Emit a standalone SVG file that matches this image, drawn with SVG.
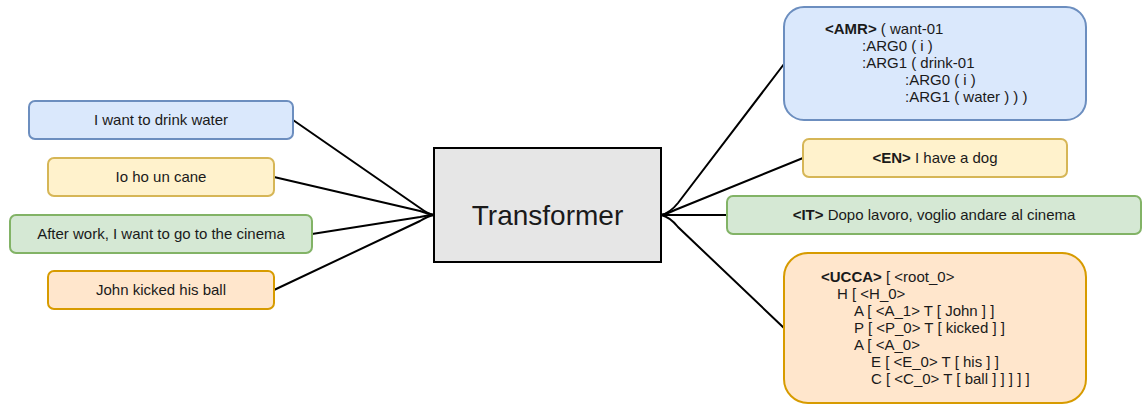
<svg xmlns="http://www.w3.org/2000/svg" width="1142" height="405" viewBox="0 0 1142 405">
<style>
text{font-family:"Liberation Sans",Arial,sans-serif;font-size:15px;fill:#1a1a1a}
.c{text-anchor:middle}
.b{font-weight:bold}
.blue{fill:#dae8fc;stroke:#6c8ebf;stroke-width:2}
.yel{fill:#fff2cc;stroke:#d6b656;stroke-width:2}
.grn{fill:#d5e8d4;stroke:#82b366;stroke-width:2}
.org{fill:#ffe6cc;stroke:#d79b00;stroke-width:2}
.edge{fill:none;stroke:#000;stroke-width:2}
</style>
<rect width="1142" height="405" fill="#fff"/>
<g id="connectors">
<path class="edge" d="M293,120 L420,208 Q428,214 434,215"/>
<path class="edge" d="M274,177 L420,211 Q428,214 434,215"/>
<path class="edge" d="M312,234 L420,217 Q428,215 434,215"/>
<path class="edge" d="M274,290 L420,221 Q428,216 434,215"/>
<path class="edge" d="M784,64 L678,203 Q670,213 661,215"/>
<path class="edge" d="M803,158 L675,210 Q667,214 661,215"/>
<path class="edge" d="M727,215 L661,215"/>
<path class="edge" d="M784,328 L678,227 Q670,217 661,215"/>
</g>
<g id="n_en_src"><rect class="blue" x="29" y="101" width="264" height="38" rx="6"/><text class="c" x="161" y="125">I want to drink water</text></g>
<g id="n_it_src"><rect class="yel" x="48" y="158" width="226" height="38" rx="6"/><text class="c" x="161" y="182">Io ho un cane</text></g>
<g id="n_en2_src"><rect class="grn" x="10" y="215" width="302" height="38" rx="6"/><text class="c" x="161" y="239">After work, I want to go to the cinema</text></g>
<g id="n_john"><rect class="org" x="48" y="271" width="226" height="38" rx="6"/><text class="c" x="161" y="295">John kicked his ball</text></g>
<g id="n_transformer"><rect x="434" y="148" width="227" height="114" fill="#e6e6e6" stroke="#000" stroke-width="2"/><text class="c" x="547.5" y="215" style="font-size:28px" dy="10">Transformer</text></g>
<g id="n_amr"><rect class="blue" x="784" y="7" width="302" height="113" rx="20"/>
<text x="825" y="34"><tspan class="b">&lt;AMR&gt;</tspan> ( want-01</text>
<text x="862" y="51">:ARG0 ( i )</text>
<text x="862" y="68">:ARG1 ( drink-01</text>
<text x="905" y="85">:ARG0 ( i )</text>
<text x="905" y="102">:ARG1 ( water ) ) )</text>
</g>
<g id="n_en"><rect class="yel" x="803" y="139" width="264" height="38" rx="6"/><text class="c" x="935" y="163"><tspan class="b">&lt;EN&gt;</tspan> I have a dog</text></g>
<g id="n_it"><rect class="grn" x="727" y="196" width="414" height="38" rx="6"/><text class="c" x="934" y="220"><tspan class="b">&lt;IT&gt;</tspan> Dopo lavoro, voglio andare al cinema</text></g>
<g id="n_ucca"><rect class="org" x="784" y="253" width="302" height="150" rx="24"/>
<text x="821" y="282"><tspan class="b">&lt;UCCA&gt;</tspan> [ &lt;root_0&gt;</text>
<text x="837" y="299">H [ &lt;H_0&gt;</text>
<text x="854" y="316">A [ &lt;A_1&gt; T [ John ] ]</text>
<text x="854" y="333">P [ &lt;P_0&gt; T [ kicked ] ]</text>
<text x="854" y="350">A [ &lt;A_0&gt;</text>
<text x="871" y="367">E [ &lt;E_0&gt; T [ his ] ]</text>
<text x="871" y="384">C [ &lt;C_0&gt; T [ ball ] ] ] ] ]</text>
</g>
</svg>
